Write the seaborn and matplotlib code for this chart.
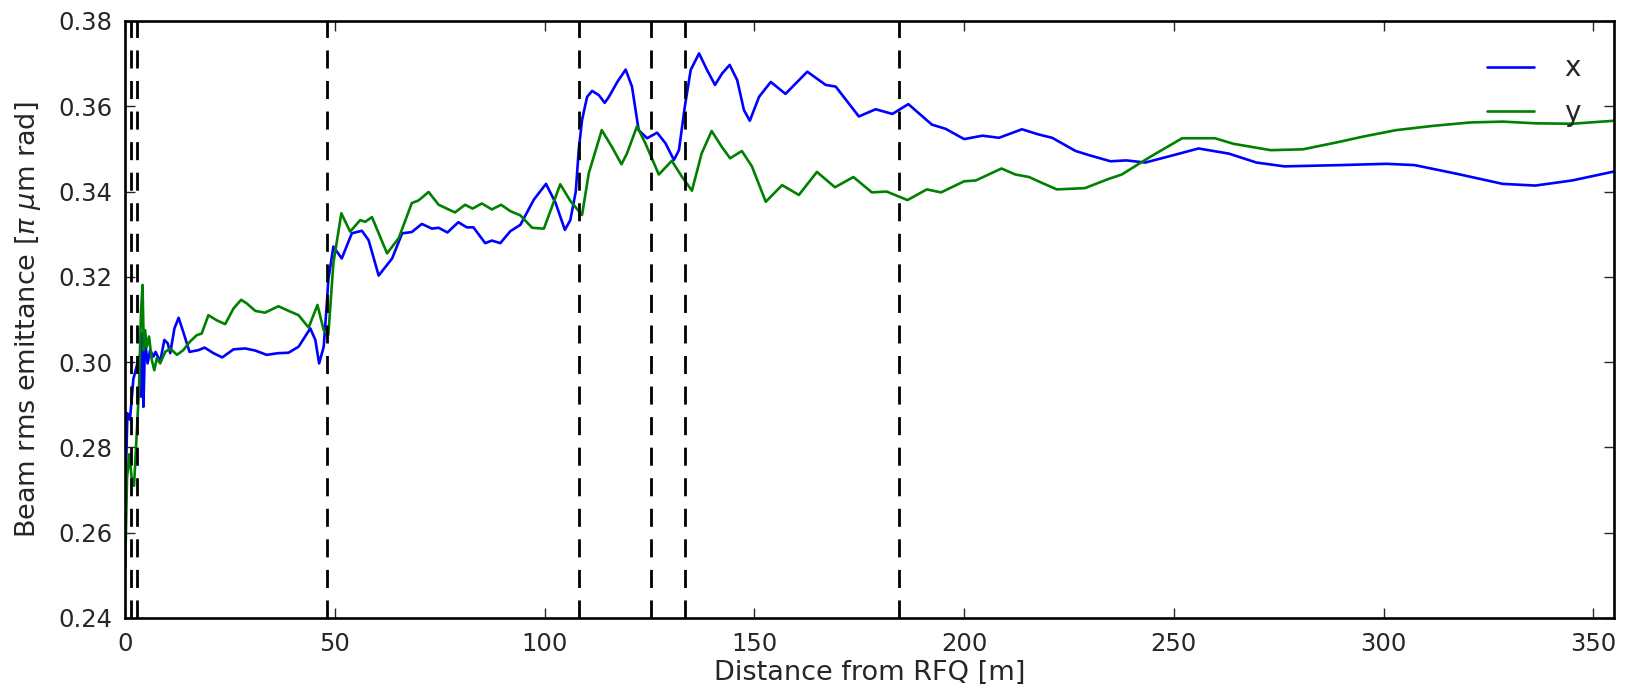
import matplotlib
matplotlib.use("Agg")
import matplotlib.pyplot as plt
import seaborn as sns
import pandas as pd
import numpy as np

# ---- data ----
dist_x = [0.0, 0.1, 0.5, 1.1, 1.9, 2.7, 3.26, 3.74, 4.06, 4.3, 4.7, 5.3, 5.9, 6.7, 7.2, 8.3, 9.3, 10.1,
          10.7, 11.7, 12.7, 13.8, 15.3, 17.4, 18.9, 21.0, 23.1, 25.8, 28.6, 31.0, 33.7, 36.5, 38.9, 41.3,
          44.1, 45.3, 46.2, 47.3, 48.1, 48.4, 49.6, 51.6, 54.0, 56.4, 58.0, 60.4, 63.6, 66.0, 68.3, 70.7,
          73.1, 74.7, 76.8, 79.4, 81.4, 83.0, 85.8, 87.4, 89.4, 91.8, 94.2, 97.4, 100.3, 102.6, 104.8,
          106.1, 107.4, 108.1, 108.9, 110.1, 111.3, 112.9, 114.3, 115.3, 117.3, 119.3, 120.8, 122.4,
          124.4, 126.8, 128.8, 130.8, 132.0, 133.4, 134.8, 136.8, 138.7, 140.6, 142.3, 144.1, 145.9,
          147.5, 148.9, 151.1, 153.9, 157.4, 162.6, 167.0, 169.4, 174.9, 178.9, 182.9, 186.7, 192.3,
          195.6, 200.0, 204.4, 208.3, 213.8, 217.7, 221.0, 226.6, 229.9, 234.9, 238.7, 243.2, 249.8,
          255.9, 263.1, 269.7, 276.4, 289.7, 300.7, 307.4, 317.3, 328.4, 336.2, 345.0, 355.0]
emit_x = [0.252, 0.273, 0.288, 0.2865, 0.296, 0.299, 0.3013, 0.2919, 0.3068, 0.2895, 0.305, 0.2997,
          0.3028, 0.3013, 0.3024, 0.3001, 0.3052, 0.3044, 0.3021, 0.3079, 0.3104, 0.3071, 0.3024, 0.3028,
          0.3034, 0.3021, 0.3011, 0.3030, 0.3032, 0.3027, 0.3017, 0.3021, 0.3022, 0.3036, 0.3079, 0.3052,
          0.2997, 0.3036, 0.3146, 0.3193, 0.3271, 0.3243, 0.3302, 0.3308, 0.3286, 0.3203, 0.3243, 0.3302,
          0.3305, 0.3324, 0.3313, 0.3315, 0.3304, 0.3328, 0.3316, 0.3316, 0.3279, 0.3285, 0.3279, 0.3307,
          0.3322, 0.3381, 0.3418, 0.3373, 0.3310, 0.3333, 0.3400, 0.3497, 0.3568, 0.3622, 0.3636, 0.3626,
          0.3608, 0.3622, 0.3657, 0.3686, 0.3646, 0.3544, 0.3525, 0.3538, 0.3513, 0.3474, 0.3497, 0.3599,
          0.3685, 0.3724, 0.3685, 0.3650, 0.3677, 0.3697, 0.3661, 0.3591, 0.3566, 0.3622, 0.3657, 0.3629,
          0.3681, 0.3650, 0.3646, 0.3576, 0.3593, 0.3582, 0.3605, 0.3557, 0.3547, 0.3523, 0.3531, 0.3526,
          0.3546, 0.3534, 0.3526, 0.3495, 0.3485, 0.3471, 0.3473, 0.3468, 0.3485, 0.3501, 0.3489, 0.3468,
          0.3459, 0.3462, 0.3465, 0.3462, 0.3442, 0.3418, 0.3414, 0.3426, 0.3447]

dist_y = [0.0, 0.4, 0.95, 1.5, 2.07, 2.7, 3.26, 3.74, 4.1, 4.4, 4.7, 5.1, 5.65, 6.3, 6.9, 7.5, 8.3, 9.5,
          10.7, 12.3, 13.8, 15.4, 17.0, 18.2, 19.8, 21.8, 23.8, 25.8, 27.6, 28.9, 31.0, 33.3, 36.5, 38.5,
          41.3, 43.7, 45.8, 47.3, 48.4, 49.6, 51.5, 53.6, 56.0, 57.2, 58.8, 62.4, 65.2, 68.3, 69.9, 72.3,
          74.7, 78.6, 81.0, 82.8, 85.0, 87.4, 89.6, 91.8, 94.2, 97.0, 99.8, 103.7, 106.1, 108.9, 110.5,
          113.6, 116.0, 118.3, 119.6, 122.0, 124.0, 127.2, 130.3, 132.7, 135.1, 137.4, 139.8, 142.2,
          144.2, 147.0, 149.4, 152.7, 156.6, 160.6, 164.9, 169.2, 173.6, 178.0, 181.5, 186.5, 191.1,
          194.5, 200.0, 202.8, 208.9, 212.2, 215.5, 217.7, 222.1, 228.8, 234.3, 237.6, 244.3, 252.0,
          259.8, 264.2, 273.1, 280.8, 289.7, 295.2, 303.0, 311.8, 320.7, 328.4, 336.2, 345.0, 355.0]
emit_y = [0.2534, 0.2729, 0.2784, 0.2729, 0.271, 0.283, 0.2940, 0.3119, 0.3181, 0.3028, 0.3075, 0.3036,
          0.306, 0.3005, 0.2981, 0.3009, 0.2997, 0.3024, 0.3032, 0.3017, 0.3028, 0.3048, 0.3063, 0.3067,
          0.3110, 0.3098, 0.3089, 0.3126, 0.3146, 0.3138, 0.3120, 0.3116, 0.3131, 0.3122, 0.3110, 0.3081,
          0.3134, 0.3075, 0.3064, 0.3232, 0.3349, 0.3306, 0.3333, 0.3329, 0.3340, 0.3255, 0.3291, 0.3373,
          0.3379, 0.3399, 0.3369, 0.3351, 0.3369, 0.3360, 0.3372, 0.3358, 0.3369, 0.3354, 0.3344, 0.3315,
          0.3313, 0.3417, 0.3378, 0.3345, 0.3443, 0.3544, 0.3505, 0.3464, 0.3489, 0.3553, 0.3513, 0.3440,
          0.3472, 0.3435, 0.3402, 0.3489, 0.3542, 0.3505, 0.3478, 0.3495, 0.3459, 0.3376, 0.3415, 0.3392,
          0.3446, 0.3410, 0.3434, 0.3398, 0.3400, 0.3380, 0.3405, 0.3398, 0.3424, 0.3426, 0.3454, 0.3440,
          0.3434, 0.3424, 0.3405, 0.3408, 0.3429, 0.3440, 0.3481, 0.3525, 0.3525, 0.3512, 0.3497, 0.3499,
          0.3517, 0.3529, 0.3544, 0.3554, 0.3562, 0.3564, 0.3560, 0.3559, 0.3566]

element_edges = [1.4, 2.7, 48.1, 108.2, 125.4, 133.4, 184.5]

series_labels = ["x", "y"]
x_ticks = [0, 50, 100, 150, 200, 250, 300, 350]
y_ticks = [0.24, 0.26, 0.28, 0.30, 0.32, 0.34, 0.36, 0.38]

df = pd.concat([
    pd.DataFrame({"dist": dist_x, "emit": emit_x, "plane": series_labels[0]}),
    pd.DataFrame({"dist": dist_y, "emit": emit_y, "plane": series_labels[1]}),
], ignore_index=True)

sns.set_style("ticks")
plt.rcParams["font.family"] = ["DejaVu Sans"]
plt.rcParams["mathtext.fontset"] = "dejavusans"

fig = plt.figure(figsize=(16.28, 6.92), dpi=100)
ax = fig.add_axes([0.077, 0.107, 0.9145, 0.8627])

sns.lineplot(data=df, x="dist", y="emit", hue="plane", palette={"x": "#0000ff", "y": "#008000"},
             sort=False, estimator=None, linewidth=1.9, ax=ax)

for e in element_edges:
    ax.axvline(e, color="black", linestyle=(0, (6.5, 4.5)), linewidth=2.0, zorder=3)

ax.set_xlim(0, 355)
ax.set_ylim(0.24, 0.38)
ax.set_xticks(x_ticks)
ax.set_yticks(y_ticks)
ax.set_yticklabels([f"{v:.2f}" for v in y_ticks])
ax.tick_params(direction="in", length=7.5, width=1, top=True, right=True, labelsize=17.5)
ax.tick_params(axis="x", pad=10)
ax.tick_params(axis="y", pad=9)
for s in ax.spines.values():
    s.set_linewidth(1.9)
    s.set_color("black")
    s.set_visible(True)

ax.set_xlabel("Distance from RFQ [m]", fontsize=19.5, labelpad=3)
ax.set_ylabel(r"Beam rms emittance [$\pi$ $\mu$m rad]", fontsize=19.5, labelpad=11)

leg = ax.legend(loc="upper right", frameon=False, fontsize=20, handlelength=1.7,
                handletextpad=1.1, labelspacing=0.6, borderaxespad=0.8)
for line in leg.get_lines():
    line.set_linewidth(1.9)

fig.savefig("out.png", dpi=100)
